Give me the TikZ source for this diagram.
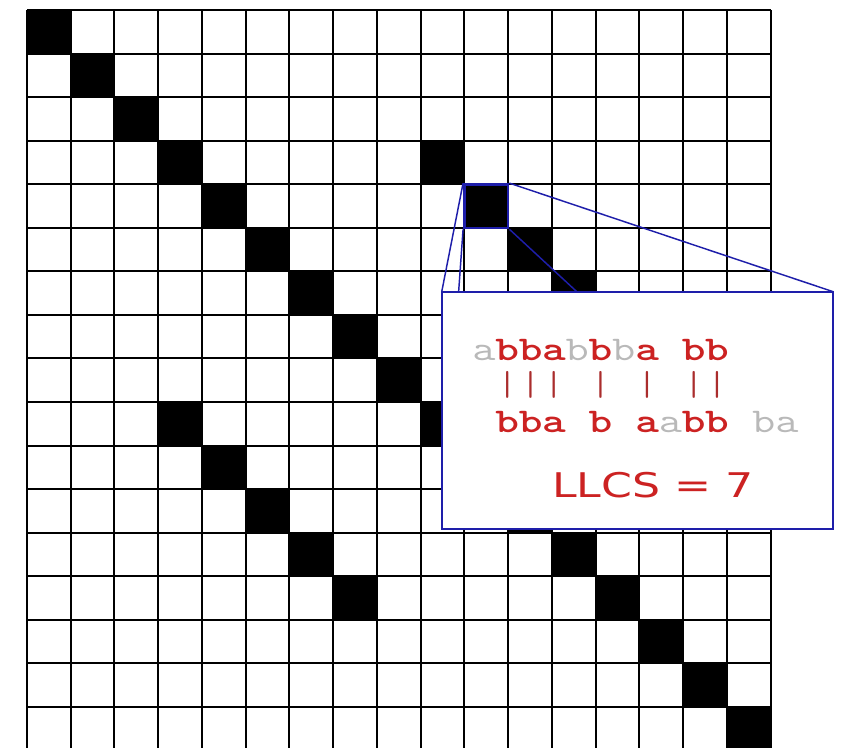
\documentclass[tikz,border=0pt]{standalone}
\usepackage{fontspec}
\usepackage{graphicx}
\usetikzlibrary{fit}
\newfontfamily\sansf{DejaVu Sans}
\definecolor{lred}{RGB}{204,34,34}
\definecolor{bred}{RGB}{170,45,45}
\definecolor{lgray}{RGB}{185,185,185}
\definecolor{zblue}{RGB}{30,30,170}
\newcommand{\wide}[1]{\scalebox{1.3}[1]{#1}}
\begin{document}
\begin{tikzpicture}[x=0.75pt,y=-0.75pt,
  gridline/.style={line width=1.5pt,black},
  cellfill/.style={fill=black},
  ch/.style={inner sep=0pt,anchor=base,font=\ttfamily\fontsize{26}{26}\selectfont},
  hit/.style={ch,text=lred,font=\ttfamily\bfseries\fontsize{26}{26}\selectfont},
  miss/.style={ch,text=lgray},
  bar/.style={ch,text=bred,anchor=center},
  zline/.style={draw=zblue,line width=1.1pt},
  zbox/.style={draw=zblue,line width=1.3pt,fill=white,inner sep=0pt},
  zcell/.style={draw=zblue,line width=2pt,inner sep=0pt}]
\useasboundingbox (0,0) rectangle (842,748);
\fill[white] (0,0) rectangle (842,748);
% black cells
\foreach \i in {0,...,16}
  \fill[cellfill] ({27+43.74*\i},{10.5+43.5*\i}) rectangle +(43.74,43.5);
\foreach \i in {3,...,7}{
  \fill[cellfill] ({27+43.74*(\i+6)},{10.5+43.5*\i}) rectangle +(43.74,43.5);
  \fill[cellfill] ({27+43.74*\i},{10.5+43.5*(\i+6)}) rectangle +(43.74,43.5);
}
% grid lines
\foreach \c in {0,...,17}
  \draw[gridline] ({27+43.74*\c},10.5) -- ({27+43.74*\c},752);
\foreach \r in {0,...,17}
  \draw[gridline] (27,{10.5+43.5*\r}) -- ({27+43.74*17},{10.5+43.5*\r});
% zoom cell and box
\node[zcell,fit={({27+43.74*10},{10.5+43.5*4}) ({27+43.74*11},{10.5+43.5*5})}] (zoom) {};
\node[inner sep=0pt,fit={(442,292) (833,529)}] (boxarea) {};
\draw[zline] (zoom.north west) -- (boxarea.north west);
\draw[zline] (zoom.north east) -- (boxarea.north east);
\draw[zline] (zoom.south west) -- (boxarea.south west);
\draw[zline] (zoom.south east) -- (boxarea.south east);
\node[zbox,fit={(442,292) (833,529)}] (box) {};
% alignment text
\foreach \k/\c/\s in {0/a/miss,1/b/hit,2/b/hit,3/a/hit,4/b/miss,5/b/hit,6/b/miss,7/a/hit,9/b/hit,10/b/hit}
  \node[\s] (u\k) at ({484+23.3*\k},360) {\wide{\c}};
\foreach \k in {1,2,3,5,7,9,10}
  \node[bar] (m\k) at ({484+23.3*\k},385) {|};
\foreach \k/\c/\s in {1/b/hit,2/b/hit,3/a/hit,5/b/hit,7/a/hit,8/a/miss,9/b/hit,10/b/hit,12/b/miss,13/a/miss}
  \node[\s] (l\k) at ({484+23.3*\k},432) {\wide{\c}};
\node[inner sep=0pt,anchor=base,text=lred,font=\sansf\fontsize{25.5}{26}\selectfont] (llcs) at (653,497) {\scalebox{1.3}[1]{LLCS = 7}};
\end{tikzpicture}
\end{document}
